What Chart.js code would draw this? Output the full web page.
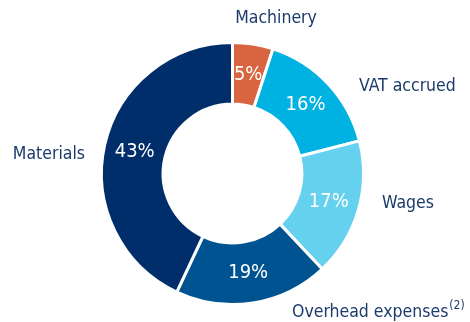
<!DOCTYPE html>
<html>
<head>
<meta charset="utf-8">
<script src="https://cdn.jsdelivr.net/npm/chart.js@4.4.1/dist/chart.umd.min.js"></script>
<style>
  html, body { margin: 0; padding: 0; background: #fff; }
  #wrap { width: 470px; height: 322px; position: relative; }
</style>
</head>
<body>
<div id="wrap"><canvas id="cost-chart"></canvas></div>
<script>
const categories = ['Machinery', 'VAT accrued', 'Wages', 'Overhead expenses', 'Materials'];
const shares = [5, 16, 17, 19, 43];
const sliceColors = ['#d8653f', '#00b2e2', '#66d0ef', '#005391', '#002e6b'];
const footnotes = ['', '', '', '(2)', ''];

// where each category name sits around the ring
const nameSpots = [
    { x: 276, y: 18, align: 'center' },
    { x: 359, y: 86, align: 'left' },
    { x: 382, y: 203, align: 'left' },
    { x: 292, y: 312, align: 'left' },
    { x: 85, y: 154, align: 'right' }
];

const FONT = '"DejaVu Sans Condensed", "DejaVu Sans", sans-serif';
const TEXT_COLOR = '#1c3b6c';

const ringLabels = {
    id: 'ringLabels',
    afterDatasetsDraw(chart) {
        const ctx = chart.ctx;
        const meta = chart.getDatasetMeta(0);
        ctx.save();
        ctx.textBaseline = 'middle';

        // percentages inside the slices
        ctx.fillStyle = '#ffffff';
        ctx.font = '20px ' + FONT;
        ctx.textAlign = 'center';
        meta.data.forEach((arc, i) => {
            const p = arc.tooltipPosition();
            ctx.fillText(shares[i] + '%', p.x, p.y);
        });

        // category names outside
        ctx.fillStyle = TEXT_COLOR;
        categories.forEach((name, i) => {
            const spot = nameSpots[i];
            ctx.font = '17.5px ' + FONT;
            ctx.textAlign = spot.align;
            ctx.fillText(name, spot.x, spot.y);
            if (footnotes[i]) {
                const w = ctx.measureText(name).width;
                ctx.font = '12px ' + FONT;
                ctx.textAlign = 'left';
                ctx.fillText(footnotes[i], spot.x + w + 1, spot.y - 6);
            }
        });
        ctx.restore();
    }
};

new Chart(document.getElementById('cost-chart'), {
    type: 'doughnut',
    data: {
        labels: categories,
        datasets: [{
            data: shares,
            backgroundColor: sliceColors,
            borderColor: '#ffffff',
            borderWidth: 3
        }]
    },
    options: {
        responsive: true,
        maintainAspectRatio: false,
        animation: false,
        cutout: '53%',
        layout: { padding: { top: 41, bottom: 16, left: 100, right: 105 } },
        plugins: { legend: { display: false }, tooltip: { enabled: false } }
    },
    plugins: [ringLabels]
});
</script>
</body>
</html>
